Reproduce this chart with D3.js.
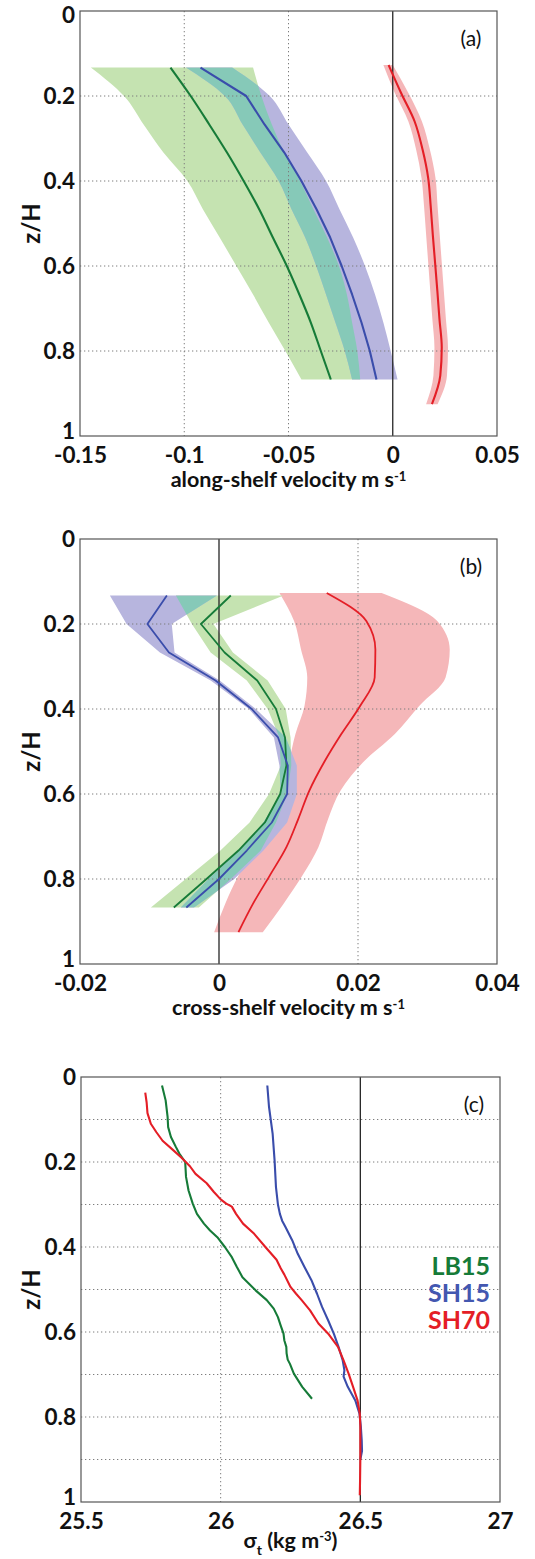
<!DOCTYPE html>
<html>
<head>
<meta charset="utf-8">
<script src="https://cdn.jsdelivr.net/npm/d3@7"></script>
<style>
body { margin: 0; background: #fff; }
svg text { font-family: Lato, "Open Sans", sans-serif; }
</style>
</head>
<body>
<svg id="chart" width="535" height="1559"></svg>
<script>
// z/H levels of the velocity profiles
const zLevels = [0.133, 0.2, 0.267, 0.333, 0.4, 0.467, 0.533, 0.6, 0.667, 0.733, 0.8, 0.867];
const zRed = [0.127, 0.193, 0.26, 0.326, 0.393, 0.459, 0.526, 0.592, 0.659, 0.725, 0.792, 0.858, 0.925];

// (a) along-shelf velocity, mean and spread
const alongLB15   = [-0.1066, -0.0969, -0.088, -0.0795, -0.0715, -0.064, -0.0575, -0.0508, -0.0448, -0.0393, -0.0345, -0.0297];
const alongLB15Lo = [-0.1448, -0.1289, -0.1195, -0.110, -0.0985, -0.091, -0.083, -0.075, -0.067, -0.0595, -0.0515, -0.0438];
const alongLB15Hi = [-0.067, -0.063, -0.058, -0.052, -0.0445, -0.038, -0.0315, -0.0258, -0.022, -0.0195, -0.017, -0.0156];
const alongSH15   = [-0.0922, -0.0703, -0.0615, -0.052, -0.0438, -0.0365, -0.030, -0.0245, -0.0195, -0.015, -0.011, -0.0078];
const alongSH15Lo = [-0.0992, -0.0805, -0.072, -0.0635, -0.0547, -0.0485, -0.042, -0.0367, -0.032, -0.0275, -0.023, -0.0195];
const alongSH15Hi = [-0.077, -0.059, -0.050, -0.041, -0.032, -0.0255, -0.019, -0.0133, -0.0085, -0.0045, -0.001, 0.0023];
const alongSH70   = [-0.002, 0.004, 0.0105, 0.0143, 0.017, 0.0182, 0.0192, 0.0203, 0.0214, 0.0224, 0.0235, 0.0228, 0.0188];
const alongSH70Lo = [-0.0045, 0.001, 0.0075, 0.0112, 0.0138, 0.015, 0.016, 0.017, 0.018, 0.019, 0.020, 0.0195, 0.016];
const alongSH70Hi = [0.0, 0.0075, 0.014, 0.0178, 0.0205, 0.0215, 0.0225, 0.0235, 0.0245, 0.0255, 0.0265, 0.026, 0.0215];

// (b) cross-shelf velocity
const crossLB15   = [0.0017, -0.0026, 0.0008, 0.0055, 0.0082, 0.0095, 0.0097, 0.0088, 0.0066, 0.0028, -0.0018, -0.0065];
const crossLB15Lo = [-0.0062, -0.0039, -0.0012, 0.0040, 0.0070, 0.0087, 0.0089, 0.0072, 0.0044, 0.0002, -0.0048, -0.0098];
const crossLB15Hi = [0.0093, -0.0008, 0.0020, 0.0070, 0.0096, 0.0103, 0.0104, 0.0098, 0.0082, 0.0060, 0.0017, -0.0029];
const crossSH15   = [-0.0075, -0.0103, -0.0072, -0.0005, 0.0047, 0.0085, 0.0099, 0.0098, 0.0076, 0.0040, 0.0000, -0.0047];
const crossSH15Lo = [-0.0157, -0.0133, -0.0085, -0.0012, 0.0043, 0.0079, 0.0087, 0.0089, 0.0064, 0.0029, -0.0015, -0.0055];
const crossSH15Hi = [-0.0003, -0.0068, -0.0064, 0.0001, 0.0053, 0.0096, 0.0112, 0.0112, 0.0098, 0.0064, 0.0022, -0.0036];
const crossSH70   = [0.0155, 0.0212, 0.0225, 0.0224, 0.0203, 0.0176, 0.0151, 0.013, 0.0114, 0.0097, 0.0073, 0.0049, 0.0028];
const crossSH70Lo = [0.0087, 0.0108, 0.0118, 0.0127, 0.0123, 0.011, 0.0101, 0.0095, 0.0075, 0.0052, 0.0028, 0.0009, -0.0007];
const crossSH70Hi = [0.0234, 0.0314, 0.0332, 0.0326, 0.0288, 0.0253, 0.0207, 0.0175, 0.0157, 0.0143, 0.012, 0.0093, 0.0063];

// (c) sigma-t profiles
const zLB15 = [0.02, 0.055, 0.094, 0.118, 0.141, 0.165, 0.18, 0.2, 0.235, 0.267, 0.298, 0.322, 0.345, 0.361, 0.377, 0.4, 0.424, 0.447, 0.471, 0.502, 0.525, 0.545, 0.565, 0.585, 0.604, 0.62, 0.635, 0.65, 0.665, 0.675, 0.698, 0.729, 0.757];
const sigmaLB15 = [25.79, 25.803, 25.81, 25.812, 25.822, 25.84, 25.852, 25.873, 25.876, 25.885, 25.9, 25.915, 25.94, 25.962, 25.988, 26.015, 26.04, 26.058, 26.078, 26.125, 26.165, 26.19, 26.205, 26.215, 26.225, 26.228, 26.235, 26.236, 26.24, 26.248, 26.262, 26.292, 26.327];
const zSH15 = [0.02, 0.07, 0.133, 0.196, 0.259, 0.3, 0.322, 0.338, 0.353, 0.384, 0.416, 0.447, 0.478, 0.51, 0.541, 0.573, 0.604, 0.635, 0.667, 0.69, 0.705, 0.729, 0.761, 0.792, 0.824, 0.855, 0.88, 0.9];
const sigmaSH15 = [26.167, 26.173, 26.186, 26.193, 26.198, 26.205, 26.212, 26.22, 26.232, 26.256, 26.276, 26.3, 26.325, 26.345, 26.363, 26.385, 26.405, 26.422, 26.437, 26.443, 26.44, 26.455, 26.482, 26.497, 26.502, 26.505, 26.506, 26.5];
const zSH70 = [0.037, 0.06, 0.085, 0.11, 0.13, 0.15, 0.172, 0.19, 0.21, 0.228, 0.25, 0.27, 0.288, 0.298, 0.305, 0.322, 0.345, 0.369, 0.4, 0.43, 0.45, 0.465, 0.494, 0.51, 0.525, 0.549, 0.58, 0.604, 0.635, 0.667, 0.698, 0.729, 0.761, 0.792, 0.82, 0.855, 0.9, 0.95, 0.984];
const sigmaSH70 = [25.73, 25.735, 25.738, 25.75, 25.77, 25.792, 25.83, 25.86, 25.89, 25.91, 25.95, 25.975, 26.0, 26.02, 26.04, 26.055, 26.08, 26.12, 26.16, 26.2, 26.215, 26.228, 26.25, 26.27, 26.29, 26.32, 26.35, 26.385, 26.42, 26.44, 26.458, 26.474, 26.49, 26.498, 26.5, 26.5, 26.5, 26.499, 26.498];

// axis ticks
const zTicks = [0, 0.2, 0.4, 0.6, 0.8, 1];
const zGridFine = [0.1, 0.2, 0.3, 0.4, 0.5, 0.6, 0.7, 0.8, 0.9];
const alongTicks = [-0.15, -0.1, -0.05, 0, 0.05];
const crossTicks = [-0.02, 0, 0.02, 0.04];
const sigmaTicks = [25.5, 26, 26.5, 27];

const colors = {
  greenFill: '#c5e3b1', purpleFill: '#b7b5de', tealFill: '#86c9b8', redFill: '#f5b7b9',
  green: '#167b38', blue: '#3a4dab', red: '#e41e26'
};

const svg = d3.select('#chart');
const H = 425;
const smooth = d3.curveMonotoneY;
const straight = d3.curveLinear;

const band = (z, lo, hi) => z.map((d, i) => ({ z: d, lo: lo[i], hi: hi[i] }));
const prof = (z, v) => z.map((d, i) => ({ z: d, v: v[i] }));

function drawPanel(cfg) {
	let g = svg.append('g');
	let x = d3.scaleLinear().domain(cfg.xDomain).range([cfg.left, cfg.right]);
	let y = d3.scaleLinear().domain([0, 1]).range([cfg.top, cfg.top + H]);

	let area = c => d3.area()
		.curve(c || straight)
		.y(d => y(d.z))
		.x0(d => x(d.lo))
		.x1(d => x(d.hi));
	let line = c => d3.line()
		.curve(c || straight)
		.x(d => x(d.v))
		.y(d => y(d.z));

	(cfg.bands || []).forEach(b => {
		g.append('path').attr('d', area(b.curve)(b.data)).attr('fill', b.fill).attr('stroke', 'none');
	});

	// overlap of the LB15 and SH15 spreads
	if (cfg.overlap) {
		let o = cfg.overlap;
		g.append('clipPath').attr('id', 'clip-' + cfg.id)
			.append('path').attr('d', area(o.curve)(o.b));
		g.append('path').attr('d', area(o.curve)(o.a))
			.attr('fill', colors.tealFill)
			.attr('clip-path', 'url(#clip-' + cfg.id + ')');
	}

	// dotted grid
	g.selectAll('.gx').data(cfg.gridX).enter().append('line')
		.attr('x1', d => x(d)).attr('x2', d => x(d))
		.attr('y1', y(0)).attr('y2', y(1))
		.attr('stroke', '#7d7d7d').attr('stroke-width', 1)
		.attr('stroke-dasharray', '1.3,2.7');
	g.selectAll('.gy').data(cfg.gridY).enter().append('line')
		.attr('y1', d => y(d)).attr('y2', d => y(d))
		.attr('x1', x.range()[0]).attr('x2', x.range()[1])
		.attr('stroke', '#7d7d7d').attr('stroke-width', 1)
		.attr('stroke-dasharray', '1.3,2.7');

	// reference line
	g.append('line')
		.attr('x1', x(cfg.refX)).attr('x2', x(cfg.refX))
		.attr('y1', y(0)).attr('y2', y(1))
		.attr('stroke', '#262626').attr('stroke-width', 1.3);

	cfg.lines.forEach(l => {
		g.append('path').attr('d', line(l.curve)(l.data))
			.attr('fill', 'none').attr('stroke', l.color)
			.attr('stroke-width', cfg.lineWidth).attr('stroke-linejoin', 'round');
	});

	// frame
	g.append('rect')
		.attr('x', x.range()[0]).attr('y', y(0))
		.attr('width', x.range()[1] - x.range()[0]).attr('height', H)
		.attr('fill', 'none').attr('stroke', '#555').attr('stroke-width', 1.2);

	// axes
	let xAxis = g.append('g').attr('transform', 'translate(0,' + y(1) + ')')
		.call(d3.axisBottom(x).tickValues(cfg.xTicks).tickFormat(d => String(d)).tickSize(0).tickPadding(11));
	let yAxis = g.append('g').attr('transform', 'translate(' + x.range()[0] + ',0)')
		.call(d3.axisLeft(y).tickValues(zTicks).tickFormat(d => String(d)).tickSize(0).tickPadding(5));
	[xAxis, yAxis].forEach(a => {
		a.select('.domain').remove();
		a.attr('font-family', null).attr('font-size', null);
		a.selectAll('text').attr('font-size', 22.5).attr('font-weight', 'bold').attr('fill', '#111');
	});
	// keep the end labels clear of the page edge and the x labels
	yAxis.selectAll('text').filter(d => d === 0).attr('dy', cfg.top < 20 ? '0.5em' : '0.32em');
	yAxis.selectAll('text').filter(d => d === 1).attr('dy', '0.1em');

	// z/H label
	g.append('text')
		.attr('transform', 'translate(40,' + (cfg.top + H / 2) + ') rotate(-90)')
		.attr('text-anchor', 'middle')
		.attr('font-size', 24).attr('font-weight', 'bold').attr('fill', '#111')
		.text('z/H');

	// panel letter
	g.append('text')
		.attr('x', cfg.right - 26).attr('y', cfg.top + 35)
		.attr('text-anchor', 'middle').attr('font-size', 21).attr('fill', '#111')
		.text(cfg.letter);

	// x title
	let t = g.append('text')
		.attr('x', (cfg.left + cfg.right) / 2).attr('y', cfg.top + H + cfg.titleOffset)
		.attr('text-anchor', 'middle')
		.attr('font-size', 21.5).attr('font-weight', 'bold').attr('fill', '#111');
	cfg.title(t);

	return g;
}

// (a)
drawPanel({
	id: 'a', letter: '(a)', top: 11, left: 80, right: 497,
	xDomain: [-0.15, 0.05], xTicks: alongTicks, gridX: [-0.1, -0.05], gridY: [0.2, 0.4, 0.6, 0.8], refX: 0,
	lineWidth: 2.1, titleOffset: 51,
	bands: [
		{ data: band(zRed, alongSH70Lo, alongSH70Hi), fill: colors.redFill, curve: smooth },
		{ data: band(zLevels, alongLB15Lo, alongLB15Hi), fill: colors.greenFill, curve: smooth },
		{ data: band(zLevels, alongSH15Lo, alongSH15Hi), fill: colors.purpleFill, curve: smooth }
	],
	overlap: { a: band(zLevels, alongLB15Lo, alongLB15Hi), b: band(zLevels, alongSH15Lo, alongSH15Hi), curve: smooth },
	lines: [
		{ data: prof(zLevels, alongLB15), color: colors.green, curve: smooth },
		{ data: prof(zLevels, alongSH15), color: colors.blue },
		{ data: prof(zRed, alongSH70), color: colors.red, curve: smooth }
	],
	title: t => {
		t.append('tspan').text('along-shelf velocity m s');
		t.append('tspan').attr('font-size', 13).attr('dy', -6).text('-1');
	}
});

// (b)
drawPanel({
	id: 'b', letter: '(b)', top: 539, left: 80, right: 497,
	xDomain: [-0.02, 0.04], xTicks: crossTicks, gridX: [0.02], gridY: [0.2, 0.4, 0.6, 0.8], refX: 0,
	lineWidth: 1.8, titleOffset: 51,
	bands: [
		{ data: band(zRed, crossSH70Lo, crossSH70Hi), fill: colors.redFill, curve: smooth },
		{ data: band(zLevels, crossLB15Lo, crossLB15Hi), fill: colors.greenFill },
		{ data: band(zLevels, crossSH15Lo, crossSH15Hi), fill: colors.purpleFill }
	],
	overlap: { a: band(zLevels, crossLB15Lo, crossLB15Hi), b: band(zLevels, crossSH15Lo, crossSH15Hi) },
	lines: [
		{ data: prof(zLevels, crossLB15), color: colors.green },
		{ data: prof(zLevels, crossSH15), color: colors.blue },
		{ data: prof(zRed, crossSH70), color: colors.red, curve: smooth }
	],
	title: t => {
		t.append('tspan').text('cross-shelf velocity m s');
		t.append('tspan').attr('font-size', 13).attr('dy', -6).text('-1');
	}
});

// (c)
let pc = drawPanel({
	id: 'c', letter: '(c)', top: 1077, left: 81, right: 500,
	xDomain: [25.5, 27], xTicks: sigmaTicks, gridX: [26], gridY: zGridFine, refX: 26.5,
	lineWidth: 2.1, titleOffset: 46,
	lines: [
		{ data: prof(zLB15, sigmaLB15), color: colors.green },
		{ data: prof(zSH15, sigmaSH15), color: colors.blue },
		{ data: prof(zSH70, sigmaSH70), color: colors.red }
	],
	title: t => {
		t.append('tspan').text('σ');
		t.append('tspan').attr('font-size', 14).attr('dy', 7).text('t');
		t.append('tspan').attr('dy', -7).text(' (kg m');
		t.append('tspan').attr('font-size', 13).attr('dy', -7).text('-3');
		t.append('tspan').attr('dy', 7).text(')');
	}
});

const legendNames = ['LB15', 'SH15', 'SH70'];
const legendColors = [colors.green, '#4357b0', colors.red];
pc.selectAll('.legend').data(legendNames).enter().append('text')
	.attr('x', 490).attr('y', (d, i) => 1275 + i * 27)
	.attr('text-anchor', 'end').attr('font-size', 25).attr('font-weight', 'bold')
	.attr('fill', (d, i) => legendColors[i])
	.text(d => d);
</script>
</body>
</html>
